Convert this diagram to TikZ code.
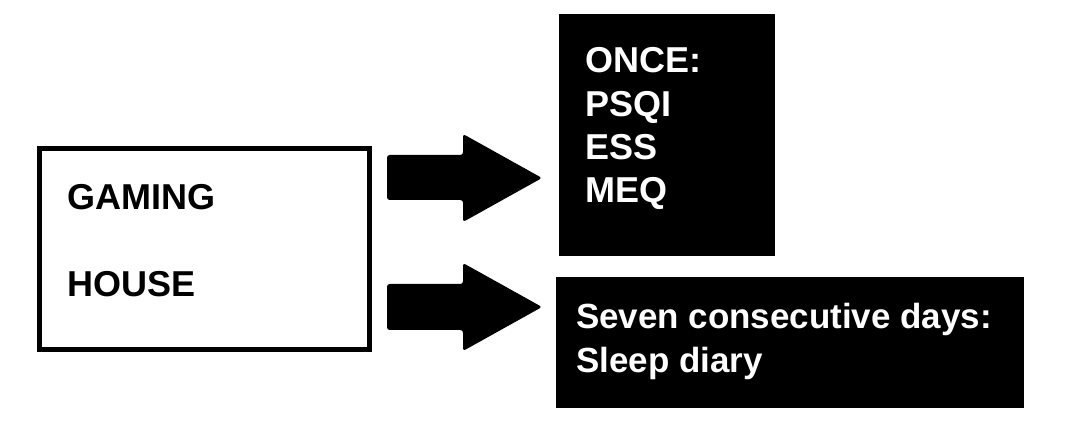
\documentclass[tikz,border=0pt]{standalone}
\usepackage{fontspec}
\setmainfont{Liberation Sans}
\begin{document}
\begin{tikzpicture}[x=0.75pt,y=-0.75pt,
  lbl/.style={inner sep=0pt,anchor=base west,font=\bfseries\fontsize{27}{32}\selectfont},
  wlbl/.style={lbl,text=white},
  wlbls/.style={wlbl,font=\bfseries\fontsize{26.2}{32}\selectfont},
  blk/.style={fill=black,draw=none,inner sep=0pt},
  blockarrow/.style={fill=black,rounded corners=2pt}]
\useasboundingbox (0,0) rectangle (1077,427);
% white box
\node[draw=black,line width=3.75pt,inner sep=0pt,minimum width=330*0.75pt,minimum height=200*0.75pt,anchor=north west] (house) at (36.5,146.5) {};
\node[lbl] (gaming) at (67,210) {GAMING};
\node[lbl] (housetxt) at (67,297) {HOUSE};
% black box 1
\node[blk,minimum width=216*0.75pt,minimum height=242*0.75pt,anchor=north west] (once) at (559,14) {};
\node[wlbl] (l1) at (585,73) {ONCE:};
\node[wlbl] (l2) at (585,117) {PSQI};
\node[wlbl] (l3) at (585,160) {ESS};
\node[wlbl] (l4) at (585,203) {MEQ};
% black box 2
\node[blk,minimum width=468*0.75pt,minimum height=131*0.75pt,anchor=north west] (seven) at (556,277) {};
\node[wlbls] (s1) at (576,329) {Seven consecutive days:};
\node[wlbls] (s2) at (576,372) {Sleep diary};
% arrows
\fill[blockarrow] (387,155) -- (463,155) -- (463,134) -- (542,178) -- (463,222) -- (463,200) -- (387,200) -- cycle;
\fill[blockarrow] (387,284) -- (463,284) -- (463,263) -- (542,307) -- (463,351) -- (463,330) -- (387,330) -- cycle;
\end{tikzpicture}
\end{document}
